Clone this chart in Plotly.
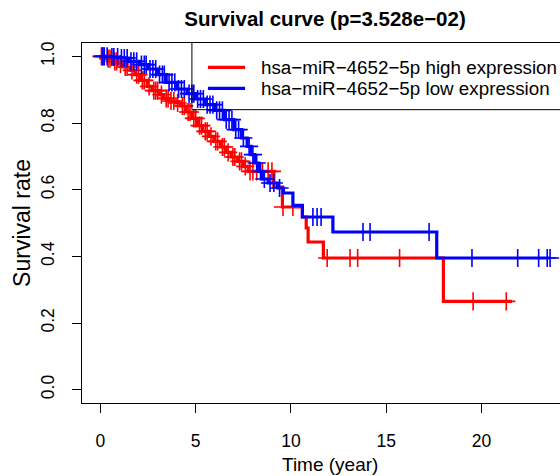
import numpy as np
import plotly.graph_objects as go

# ---- data ----
high_label = "hsa\u2212miR\u22124652\u22125p high expression"
low_label = "hsa\u2212miR\u22124652\u22125p low expression"
title_text = "Survival curve (p=3.528e\u221202)"
x_title = "Time (year)"
y_title = "Survival rate"

# step points (time, survival after the step) – high expression (red)
high_time = [0.0, 0.3, 0.65, 0.9, 1.2, 1.55, 1.8, 2.1, 2.45, 2.7, 3.1, 3.3, 3.6, 3.95, 4.2, 4.5,
             4.8, 5.1, 5.35, 5.7, 5.95, 6.3, 6.6, 6.85, 7.2, 7.5, 7.75, 9.1, 9.55, 10.6, 10.8,
             10.9, 11.7, 18.0]
high_surv = [1.0, 0.993, 0.985, 0.977, 0.968, 0.958, 0.945, 0.928, 0.91, 0.897, 0.885, 0.874,
             0.866, 0.86, 0.851, 0.833, 0.814, 0.792, 0.775, 0.76, 0.745, 0.728, 0.712, 0.698,
             0.685, 0.67, 0.655, 0.608, 0.548, 0.518, 0.485, 0.443, 0.395, 0.265]
high_end = 21.6
high_censor = [0.05, 0.15, 0.4, 0.5, 0.75, 0.85, 1.05, 1.3, 1.4, 1.65, 1.9, 2.0, 2.2, 2.3, 2.55,
               2.8, 2.9, 3.0, 3.2, 3.45, 3.55, 3.7, 3.85, 4.05, 4.3, 4.4, 4.6, 4.7, 4.9, 5.0,
               5.2, 5.3, 5.5, 5.6, 5.8, 6.05, 6.15, 6.4, 6.5, 6.7, 6.95, 7.05, 7.3, 7.4, 7.6,
               7.85, 8.0, 8.2, 8.5, 8.8, 9.0, 9.58, 10.1, 11.9, 13.1, 13.5, 15.7, 19.56, 21.3]

# step points – low expression (blue)
low_time = [0.0, 0.5, 1.0, 1.5, 2.05, 2.5, 3.0, 3.45, 4.0, 4.55, 5.0, 5.5, 6.0, 6.5, 7.0, 7.4,
            7.7, 7.9, 8.1, 8.3, 8.5, 8.8, 9.3, 9.6, 10.1, 10.6, 12.2, 17.65]
low_surv = [1.0, 0.998, 0.995, 0.985, 0.975, 0.962, 0.945, 0.922, 0.902, 0.888, 0.872, 0.855,
            0.838, 0.81, 0.78, 0.755, 0.73, 0.705, 0.68, 0.655, 0.632, 0.62, 0.605, 0.59,
            0.553, 0.518, 0.473, 0.395]
low_end = 23.6
low_censor = [0.1, 0.2, 0.35, 0.6, 0.7, 0.9, 1.1, 1.25, 1.4, 1.6, 1.75, 1.9, 2.15, 2.3, 2.4,
              2.6, 2.75, 2.9, 3.1, 3.25, 3.35, 3.6, 3.75, 3.9, 4.1, 4.25, 4.4, 4.65, 4.8, 4.9,
              5.1, 5.25, 5.4, 5.6, 5.75, 5.9, 6.1, 6.25, 6.4, 6.6, 6.75, 6.9, 7.1, 7.25, 7.5,
              7.8, 8.0, 8.2, 8.4, 8.6, 8.9, 9.1, 9.4, 11.15, 11.37, 11.58, 13.78, 14.15, 17.25,
              19.5, 21.9, 23.0, 23.45, 23.6]

x_ticks = [0, 5, 10, 15, 20]
y_ticks = [0.0, 0.2, 0.4, 0.6, 0.8, 1.0]

RED = "#FF0000"
BLUE = "#0000FF"
FONT = "Liberation Sans, Arial, sans-serif"


def step_value(times, surv, t):
    idx = np.searchsorted(np.array(times), t, side="right") - 1
    return [surv[i] for i in idx]


fig = go.Figure()
for times, surv, end, cens, col in [
    (high_time, high_surv, high_end, high_censor, RED),
    (low_time, low_surv, low_end, low_censor, BLUE),
]:
    fig.add_trace(go.Scatter(x=times + [end], y=surv + [surv[-1]], mode="lines",
                             line=dict(color=col, width=3.2, shape="hv"),
                             showlegend=False, hoverinfo="skip"))
    fig.add_trace(go.Scatter(x=cens, y=step_value(times, surv, cens), mode="markers",
                             marker=dict(symbol="cross-thin", size=13,
                                         line=dict(color=col, width=1.6)),
                             showlegend=False, hoverinfo="skip"))

# legend (R style, box running off the right edge)
fig.add_shape(type="line", xref="x", yref="y", x0=4.8, x1=4.8, y0=0.84, y1=1.04,
              line=dict(color="black", width=1))
fig.add_shape(type="line", xref="x", yref="y", x0=4.8, x1=25, y0=0.84, y1=0.84,
              line=dict(color="black", width=1))
for yy, col, lab in [(0.967, RED, high_label), (0.904, BLUE, low_label)]:
    fig.add_shape(type="line", xref="x", yref="y", x0=5.64, x1=7.59, y0=yy, y1=yy,
                  line=dict(color=col, width=3.2))
    fig.add_annotation(x=8.30, y=yy, xref="x", yref="y", text=lab, showarrow=False,
                       xanchor="left", yanchor="middle",
                       font=dict(family=FONT, size=18.8, color="black"))

W, H = 560, 476
PLOT_TOP, PLOT_BOTTOM, PLOT_LEFT = 43, 403, 82
PLOT_H = PLOT_BOTTOM - PLOT_TOP
PLOT_W = W - PLOT_LEFT

# x axis title placed as in the reference (close to the bottom edge)
fig.add_annotation(x=(330 - PLOT_LEFT) / PLOT_W, y=-(464 - PLOT_BOTTOM) / PLOT_H,
                   xref="paper", yref="paper",
                   text=x_title, showarrow=False, xanchor="center", yanchor="middle",
                   font=dict(family=FONT, size=19, color="black"))

fig.update_layout(
    width=W, height=H,
    margin=dict(l=PLOT_LEFT, r=0, t=PLOT_TOP, b=H - PLOT_BOTTOM, autoexpand=False),
    paper_bgcolor="white", plot_bgcolor="white",
    title=dict(text="<b>" + title_text + "</b>", x=325 / W, xanchor="center",
               y=1 - 19 / H, yanchor="middle",
               font=dict(family=FONT, size=20.5, color="black")),
    font=dict(family=FONT, size=19, color="black"),
)
fig.update_xaxes(range=[-0.97, (560 - 100.5) / 19.05], tickvals=x_ticks,
                 ticktext=[str(v) for v in x_ticks], automargin=False,
                 showgrid=False, zeroline=False, showline=True, mirror=True,
                 linecolor="black", linewidth=1, ticks="outside", ticklen=9,
                 tickcolor="black", ticklabelstandoff=13, tickfont=dict(size=17.5))
fig.update_yaxes(range=[-0.04, 1.04], tickvals=y_ticks,
                 ticktext=["0.0", "0.2", "0.4", "0.6", "0.8", "1.0"], automargin=False,
                 showgrid=False, zeroline=False, showline=True, mirror=False,
                 linecolor="black", linewidth=1, ticks="outside", ticklen=9,
                 tickcolor="black", tickangle=-90, ticklabelstandoff=11,
                 tickfont=dict(size=17.5),
                 title=dict(text=y_title, standoff=0))

fig.write_html("out.html", config={"displayModeBar": False},
               post_script="document.body.style.margin='0';document.body.style.overflow='hidden';")
